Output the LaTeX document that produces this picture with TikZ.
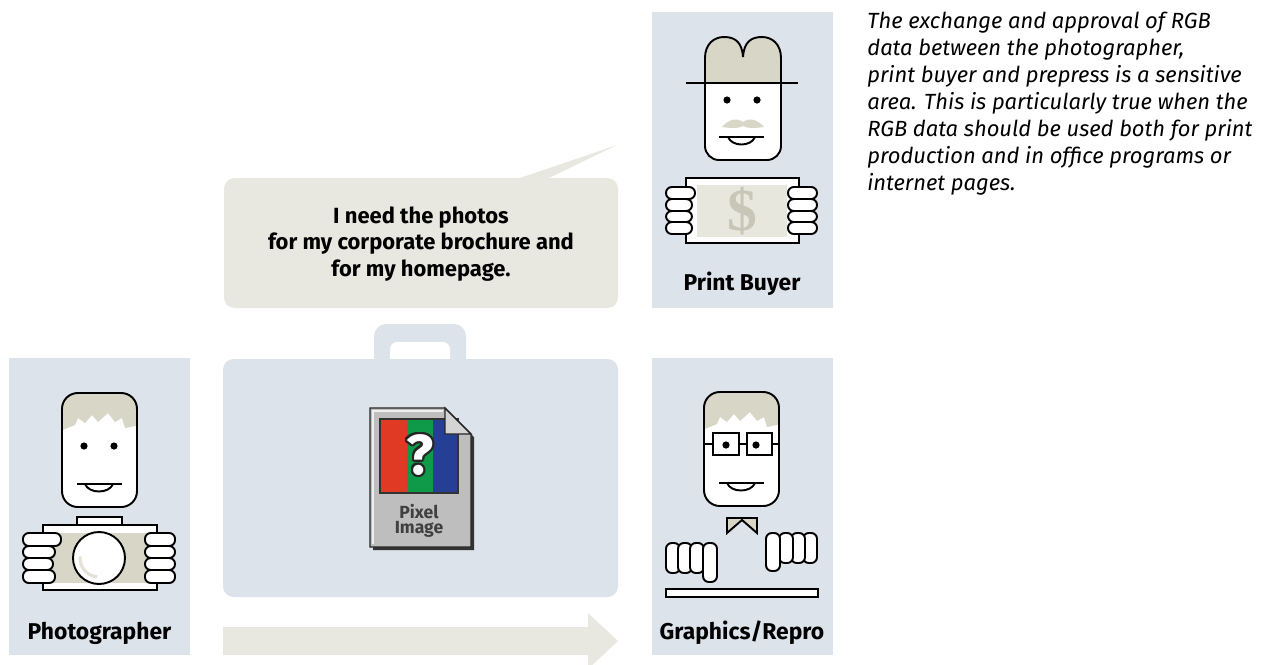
\documentclass[tikz,border=0pt]{standalone}
\usepackage{fontspec}
\setmainfont{Fira Sans}
\newfontfamily\billfont{Liberation Serif}
\usepackage{contour}
\contourlength{1.2pt}

\definecolor{panelblue}{HTML}{DDE3EA}
\definecolor{bubblegrey}{HTML}{E9E8E0}
\definecolor{hairbeige}{HTML}{D8D6C7}
\definecolor{billgrey}{HTML}{E8E7DE}
\definecolor{dollargrey}{HTML}{C8C6B6}
\definecolor{icongrey}{HTML}{BEBEBE}
\definecolor{eargrey}{HTML}{D4D4D4}
\definecolor{rgbred}{HTML}{E03A25}
\definecolor{rgbgreen}{HTML}{0E9A48}
\definecolor{rgbblue}{HTML}{253F95}

% head with spiky hair, eyes and smile (top left corner at 62,393)
\newcommand{\spikyhead}{%
	\fill[white, rounded corners=9pt] (62,393) rectangle (137,507);
	\begin{scope}
		\clip[rounded corners=9pt] (62,393) rectangle (137,507);
		\fill[hairbeige] (60,390) -- (140,390) -- (140,425) -- (125,428) -- (122,418) -- (115,422)
			-- (108,413) -- (98,422) -- (92,415) -- (85,423) -- (78,418) -- (75,425) -- (60,431) -- cycle;
	\end{scope}
	\draw[outline, rounded corners=9pt] (62,393) rectangle (137,507);
	\fill (84,446) circle (3.6);
	\fill (114,446) circle (3.6);
	\draw[outline] (77,484) -- (122,484);
	\draw[outline] (85,484) .. controls (89,494) and (109,494) .. (113,484);
}

\begin{document}
\begin{tikzpicture}[x=0.02cm,y=-0.02cm]
	\tikzstyle{panel} = [fill=panelblue]
	\tikzstyle{bubble} = [fill=bubblegrey]
	\tikzstyle{outline} = [draw=black, line width=1.1pt]
	\tikzstyle{skin} = [outline, fill=white]
	\tikzstyle{finger} = [skin, rounded corners=3.3pt]
	\tikzstyle{role} = [font=\bfseries\fontsize{13}{15}\selectfont, anchor=base]
	\tikzstyle{iconline} = [draw=black!85, line width=0.8pt]

	\useasboundingbox (0,0) rectangle (1265,664);

%------------------------------------------------------------
	% background panels
	\fill[panel] (9,358) rectangle (190,655);
	\fill[panel] (652,12) rectangle (833,308);
	\fill[panel] (652,358) rectangle (833,655);

	% speech bubble
	\fill[bubble, rounded corners=6pt] (224,178) rectangle (618,308);
	\fill[bubble] (517,179) -- (617,145) -- (547,179) -- cycle;
	\node[font=\bfseries\fontsize{12.5}{15.2}\selectfont, align=center] (request) at (421,244)
		{I need the photos\\for my corporate brochure and\\for my homepage.};

	% briefcase
	\fill[panel, rounded corners=7pt] (374,324) rectangle (466,372);
	\fill[white, rounded corners=4pt] (390,342) rectangle (450,372);
	\fill[panel, rounded corners=6pt] (223,359) rectangle (618,597);

	% arrow
	\fill[bubble] (223,627) -- (588,627) -- (588,613) -- (618,641) -- (588,669) -- (588,655) -- (223,655) -- cycle;

%------------------------------------------------------------
	% pixel image icon
	\fill[black!80] (373,411) -- (448,411) -- (474,437) -- (474,550) -- (373,550) -- cycle;
	\filldraw[iconline, fill=icongrey] (370,408) -- (445,408) -- (471,434) -- (471,547) -- (370,547) -- cycle;
	\draw[white!75!icongrey, line width=0.8pt] (373,544) -- (373,411) -- (443,411);
	\fill[black!80] (379,418) rectangle (459,494);
	\fill[rgbred] (381,420) rectangle (407,492);
	\fill[rgbgreen] (407,420) rectangle (433,492);
	\fill[rgbblue] (433,420) rectangle (457,492);
	\filldraw[iconline, fill=eargrey] (445,408) -- (471,434) -- (445,434) -- cycle;
	\node[font=\bfseries\fontsize{32}{32}\selectfont, text=white] (question) at (420,456) {\contour{black!85}{?}};
	\node[font=\bfseries\fontsize{10}{10}\selectfont, text=black!75, anchor=base] (pixel) at (419,518) {Pixel};
	\node[font=\bfseries\fontsize{10}{10}\selectfont, text=black!75, anchor=base] (image) at (419,533) {Image};

%------------------------------------------------------------
	% print buyer: hat, face, banknote
	\filldraw[outline, fill=hairbeige] (705,83) -- (705,58) .. controls (705,44) and (714,37) .. (724,37)
		.. controls (735,37) and (742,42) .. (743,57) .. controls (744,42) and (751,37) .. (762,37)
		.. controls (772,37) and (781,44) .. (781,58) -- (781,83);
	\filldraw[skin, rounded corners=8pt] (705,83) -- (705,160) -- (781,160) -- (781,83);
	\draw[outline] (686,83) -- (798,83);
	\fill (727,100) circle (3.6);
	\fill (757,100) circle (3.6);
	\fill[hairbeige] (743,122) .. controls (736,117) and (728,120) .. (722,127)
		.. controls (730,128) and (738,129) .. (743,126) .. controls (748,129) and (756,128) .. (764,127)
		.. controls (758,120) and (750,117) .. (743,122);
	\draw[outline] (719,137) -- (764,137);
	\draw[outline] (728,137) .. controls (732,147) and (751,147) .. (755,137);

	\filldraw[skin] (686,178) rectangle (799,243);
	\fill[billgrey] (697,185) rectangle (787,237);
	\node[font=\billfont\bfseries\fontsize{34}{34}\selectfont, text=dollargrey] (dollar) at (742,211) {\$};

	\draw[finger] (666,187) rectangle (695,199);
	\draw[finger] (666,199) rectangle (692,211);
	\draw[finger] (666,211) rectangle (692,222);
	\draw[finger] (666,222) rectangle (692,234);
	\draw[finger] (788,187) rectangle (817,199);
	\draw[finger] (788,199) rectangle (817,211);
	\draw[finger] (788,211) rectangle (817,222);
	\draw[finger] (788,222) rectangle (817,234);

	\node[role] (buyer) at (742,290) {Print Buyer};

%------------------------------------------------------------
	% photographer with camera
	\spikyhead

	\filldraw[skin] (77,517) rectangle (122,525);
	\filldraw[skin] (43,525) rectangle (157,590);
	\fill[hairbeige] (43.6,533) rectangle (156.4,583);
	\filldraw[skin] (99,558) circle (26);
	\draw[hairbeige!70!white, line width=1.8pt] (99,558) ++(95:19) arc (95:185:19);

	\draw[finger] (23,533) rectangle (61,546);
	\draw[finger] (23,546) rectangle (55,558);
	\draw[finger] (23,558) rectangle (53,570);
	\draw[finger] (23,570) rectangle (55,583);
	\draw[finger] (145,533) rectangle (175,546);
	\draw[finger] (145,546) rectangle (175,558);
	\draw[finger] (145,558) rectangle (175,570);
	\draw[finger] (145,570) rectangle (175,583);

	\node[role] (photographer) at (99.5,639) {Photographer};

%------------------------------------------------------------
	% graphics/repro with glasses, bow tie and desk
	\begin{scope}[shift={(642,-1)}]
		\spikyhead
	\end{scope}
	\filldraw[skin] (713,433) rectangle (739,455);
	\filldraw[skin] (747,433) rectangle (772,455);
	\draw[outline] (704,444) -- (713,444);
	\draw[outline] (739,444) -- (747,444);
	\draw[outline] (772,444) -- (780,444);
	\fill (726,445) circle (3.6);
	\fill (756,445) circle (3.6);

	\filldraw[outline, fill=hairbeige, line join=miter] (727,518) -- (757,518) -- (757,533) -- (742,520) -- (727,533) -- cycle;

	\draw[finger] (666,543) rectangle (680,573);
	\draw[finger] (678,543) rectangle (692,573);
	\draw[finger] (690,543) rectangle (704,573);
	\draw[finger] (703,543) rectangle (717,582);
	\draw[finger] (803,533) rectangle (817,563);
	\draw[finger] (791,533) rectangle (805,563);
	\draw[finger] (779,533) rectangle (793,563);
	\draw[finger] (766,533) rectangle (780,571);

	\draw[skin] (666,589) rectangle (818,597);

	\node[role] (repro) at (742,639) {Graphics/Repro};

%------------------------------------------------------------
	% explanation
	\node[font=\itshape\fontsize{12.5}{15.3}\selectfont, align=left, anchor=north west, inner sep=0pt] (note) at (867,12)
		{The exchange and approval of RGB\\
		 data between the photographer,\\
		 print buyer and prepress is a sensitive\\
		 area. This is particularly true when the\\
		 RGB data should be used both for print\\
		 production and in office programs or\\
		 internet pages.};

\end{tikzpicture}
\end{document}
